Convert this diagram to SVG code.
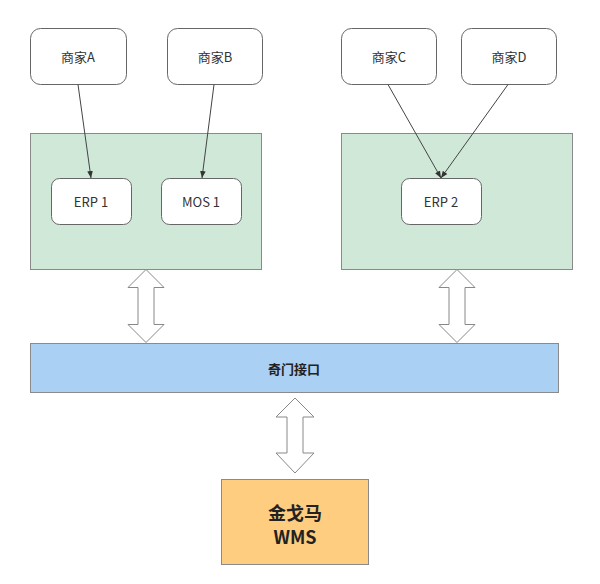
<svg xmlns="http://www.w3.org/2000/svg" width="600" height="584" viewBox="0 0 600 584">
<style>
.node{fill:#ffffff;stroke:#666666;stroke-width:1}
.grp{fill:#d0e8d8;stroke:#8a8a8a;stroke-width:1}
.lbl{font-family:"Noto Sans CJK SC","Noto Sans",sans-serif;font-size:13px;fill:#333333;text-anchor:middle;dominant-baseline:central}
.bold{font-weight:bold;fill:#222222}
.conn{stroke:#444444;stroke-width:1;fill:none;marker-end:url(#ah)}
.dbl{fill:#ffffff;stroke:#888888;stroke-width:1}
</style>
<defs>
<marker id="ah" viewBox="0 0 10 10" refX="10" refY="5" markerWidth="7" markerHeight="7" orient="auto" markerUnits="userSpaceOnUse">
<path d="M0,1 L10,5 L0,9 Z" fill="#333333"/>
</marker>
</defs>
<rect width="600" height="584" fill="#ffffff"/>
<g id="group1"><rect class="grp" x="30.5" y="133.5" width="231" height="136"/></g>
<g id="group2"><rect class="grp" x="341.5" y="133.5" width="231" height="136"/></g>
<g id="shangjiaA"><rect class="node" x="30.5" y="28.5" width="96" height="56" rx="10"/><text class="lbl" x="78" y="56">商家A</text></g>
<g id="shangjiaB"><rect class="node" x="167.5" y="28.5" width="95" height="56" rx="10"/><text class="lbl" x="215" y="56">商家B</text></g>
<g id="shangjiaC"><rect class="node" x="341.5" y="28.5" width="95" height="56" rx="10"/><text class="lbl" x="389" y="56">商家C</text></g>
<g id="shangjiaD"><rect class="node" x="461.5" y="28.5" width="95" height="56" rx="10"/><text class="lbl" x="509" y="56">商家D</text></g>
<g id="erp1"><rect class="node" x="51.5" y="178.5" width="80" height="46" rx="8"/><text class="lbl" x="91" y="201">ERP 1</text></g>
<g id="mos1"><rect class="node" x="161.5" y="178.5" width="80" height="46" rx="8"/><text class="lbl" x="201" y="201">MOS 1</text></g>
<g id="erp2"><rect class="node" x="401.5" y="178.5" width="80" height="46" rx="8"/><text class="lbl" x="441" y="201">ERP 2</text></g>
<g id="qimen"><rect x="30.5" y="343.5" width="528" height="49" fill="#aad0f4" stroke="#8a8a8a"/><text class="lbl bold" x="294" y="368" font-size="14">奇门接口</text></g>
<g id="wms"><rect x="221.5" y="479.5" width="147" height="85" fill="#ffcd80" stroke="#8a8a8a"/><text class="lbl bold" x="295" y="512" style="font-size:18px">金戈马</text><text class="lbl bold" x="295" y="536" style="font-size:18px">WMS</text></g>
<g id="connectors">
<line class="conn" x1="78" y1="84.5" x2="91" y2="178"/>
<line class="conn" x1="214" y1="84.5" x2="202" y2="178"/>
<line class="conn" x1="388" y1="84.5" x2="441" y2="178"/>
<line class="conn" x1="508" y1="84.5" x2="441" y2="178"/>
<path class="dbl" d="M146,269.5 L164,287.5 L154,287.5 L154,324.5 L164,324.5 L146,342.5 L128,324.5 L138,324.5 L138,287.5 L128,287.5 Z"/>
<path class="dbl" d="M457,269.5 L475,287.5 L465,287.5 L465,324.5 L475,324.5 L457,342.5 L439,324.5 L449,324.5 L449,287.5 L439,287.5 Z"/>
<path class="dbl" d="M295,398 L314,417 L303,417 L303,453 L314,453 L295,473 L276,453 L287,453 L287,417 L276,417 Z"/>
</g>
</svg>
